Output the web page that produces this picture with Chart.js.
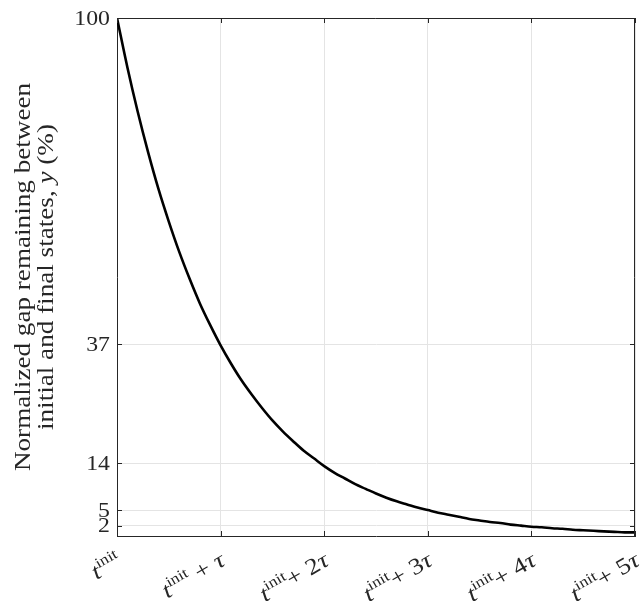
<!DOCTYPE html>
<html>
<head>
<meta charset="utf-8">
<script src="https://cdn.jsdelivr.net/npm/chart.js@4"></script>
<style>
  html, body { margin: 0; padding: 0; background: #fff; }
  #wrap { width: 643px; height: 603px; }
</style>
</head>
<body>
<div id="wrap"><canvas id="myChart" width="643" height="603"></canvas></div>
<script>
// time since t_init, in units of tau
const tValues = [
    0.0, 0.1, 0.2, 0.3, 0.4, 0.5, 0.6, 0.7, 0.8, 0.9,
    1.0, 1.1, 1.2, 1.3, 1.4, 1.5, 1.6, 1.7, 1.8, 1.9,
    2.0, 2.1, 2.2, 2.3, 2.4, 2.5, 2.6, 2.7, 2.8, 2.9,
    3.0, 3.1, 3.2, 3.3, 3.4, 3.5, 3.6, 3.7, 3.8, 3.9,
    4.0, 4.1, 4.2, 4.3, 4.4, 4.5, 4.6, 4.7, 4.8, 4.9,
    5.0
];
// normalized gap remaining (%)
const gapValues = [
    100, 90.5, 81.9, 74.1, 67.0, 60.7, 54.9, 49.7, 44.9, 40.7,
    36.8, 33.3, 30.1, 27.3, 24.7, 22.3, 20.2, 18.3, 16.5, 15.0,
    13.5, 12.2, 11.1, 10.0, 9.1, 8.2, 7.4, 6.7, 6.1, 5.5,
    5.0, 4.5, 4.1, 3.7, 3.3, 3.0, 2.7, 2.5, 2.2, 2.0,
    1.8, 1.7, 1.5, 1.4, 1.2, 1.1, 1.0, 0.9, 0.8, 0.7,
    0.7
];
const xTickMultiples = [0, 1, 2, 3, 4, 5];
const yTickValues = [2, 5, 14, 37, 100];
const yTitleLines = ['Normalized gap remaining between', 'initial and final states, '];

const SERIF = '"Liberation Serif", "DejaVu Serif", serif';
const AXIS_COLOR = '#262626';
const WIDEN = 1.16; // Liberation Serif is narrower than the LaTeX font

// draws "t^init + k tau" style labels, rotated
function drawTimeLabel(ctx, k, x, y) {
    const parts = [{ text: 't', font: 'italic 23px ' + SERIF, dy: 0 },
                   { text: 'init', font: '15px ' + SERIF, dy: -9 }];
    if (k === 1) {
        parts.push({ text: ' + ', font: '23px ' + SERIF, dy: 0 });
        parts.push({ text: '\u03C4', font: 'italic 23px ' + SERIF, dy: 0 });
    } else if (k > 1) {
        parts.push({ text: '+ ', font: '23px ' + SERIF, dy: 0 });
        parts.push({ text: String(k), font: '23px ' + SERIF, dy: 0 });
        parts.push({ text: '\u03C4', font: 'italic 23px ' + SERIF, dy: 0 });
    }
    let total = 0;
    parts.forEach(p => { ctx.font = p.font; p.w = ctx.measureText(p.text).width; total += p.w; });
    ctx.save();
    ctx.translate(x, y);
    ctx.rotate(-Math.PI / 6);
    ctx.scale(WIDEN, 1);
    ctx.textBaseline = 'alphabetic';
    ctx.textAlign = 'left';
    let cx = -total;
    parts.forEach(p => {
        ctx.font = p.font;
        ctx.fillText(p.text, cx, 18 + p.dy);
        cx += p.w;
    });
    ctx.restore();
}

const decorations = {
    id: 'decorations',
    afterDraw(chart) {
        const ctx = chart.ctx;
        const area = chart.chartArea;
        const xs = chart.scales.x, ys = chart.scales.y;
        ctx.save();
        ctx.strokeStyle = AXIS_COLOR;
        ctx.lineWidth = 1;
        ctx.beginPath();
        ctx.moveTo(area.left, area.top + 0.5);
        ctx.lineTo(area.right - 0.5, area.top + 0.5);
        ctx.lineTo(area.right - 0.5, area.bottom);
        ctx.stroke();
        // inward ticks
        ctx.beginPath();
        xTickMultiples.forEach(k => {
            const px = Math.round(xs.getPixelForValue(k)) + 0.5;
            ctx.moveTo(px, area.bottom); ctx.lineTo(px, area.bottom - 5);
            ctx.moveTo(px, area.top); ctx.lineTo(px, area.top + 5);
        });
        yTickValues.forEach(v => {
            const py = Math.round(ys.getPixelForValue(v)) + 0.5;
            ctx.moveTo(area.left, py); ctx.lineTo(area.left + 5, py);
            ctx.moveTo(area.right, py); ctx.lineTo(area.right - 5, py);
        });
        ctx.stroke();

        ctx.fillStyle = AXIS_COLOR;
        // y tick labels
        ctx.font = '22px ' + SERIF;
        ctx.textAlign = 'right';
        ctx.textBaseline = 'middle';
        yTickValues.forEach(v => {
            ctx.save();
            ctx.translate(area.left - 7, ys.getPixelForValue(v) + 1);
            ctx.scale(1.08, 1);
            ctx.fillText(String(v), 0, 0);
            ctx.restore();
        });
        // x tick labels
        xTickMultiples.forEach(k => {
            drawTimeLabel(ctx, k, xs.getPixelForValue(k) - 3, area.bottom + 13);
        });

        // y axis title, two lines with italic y
        const cy = (area.top + area.bottom) / 2;
        ctx.translate(0, cy);
        ctx.rotate(-Math.PI / 2);
        ctx.scale(1.18, 1);
        ctx.textBaseline = 'alphabetic';
        ctx.textAlign = 'left';
        ctx.font = '23px ' + SERIF;
        const w1 = ctx.measureText(yTitleLines[0]).width;
        ctx.fillText(yTitleLines[0], -w1 / 2, 30);
        const a = ctx.measureText(yTitleLines[1]).width;
        ctx.font = 'italic 23px ' + SERIF;
        const b = ctx.measureText('y').width;
        ctx.font = '23px ' + SERIF;
        const c = ctx.measureText(' (%)').width;
        let sx = -(a + b + c) / 2;
        ctx.fillText(yTitleLines[1], sx, 53);
        ctx.font = 'italic 23px ' + SERIF;
        ctx.fillText('y', sx + a, 53);
        ctx.font = '23px ' + SERIF;
        ctx.fillText(' (%)', sx + a + b, 53);
        ctx.restore();
    }
};

const config = {
    type: 'line',
    data: {
        datasets: [{
            data: tValues.map((t, i) => ({ x: t, y: gapValues[i] })),
            borderColor: '#000',
            borderWidth: 2.6,
            pointRadius: 0,
            cubicInterpolationMode: 'monotone',
            fill: false
        }]
    },
    options: {
        responsive: false,
        animation: false,
        layout: { padding: { top: 18, right: 8, left: 0, bottom: 0 } },
        plugins: {
            legend: { display: false },
            tooltip: { enabled: false }
        },
        scales: {
            x: {
                type: 'linear',
                min: 0,
                max: 5,
                ticks: { stepSize: 1, display: false },
                grid: { color: '#e4e4e4', drawTicks: false },
                border: { color: AXIS_COLOR, width: 1 },
                afterFit(scale) { scale.height = 67; scale.paddingLeft = 0; scale.paddingRight = 0; }
            },
            y: {
                min: 0,
                max: 100,
                afterBuildTicks(scale) { scale.ticks = yTickValues.map(v => ({ value: v })); },
                ticks: { display: false },
                grid: { color: '#e4e4e4', drawTicks: false },
                border: { color: AXIS_COLOR, width: 1 },
                afterFit(scale) { scale.width = 117; scale.paddingTop = 0; scale.paddingBottom = 0; }
            }
        }
    },
    plugins: [decorations]
};

const myChart = new Chart(document.getElementById('myChart'), config);
</script>
</body>
</html>
